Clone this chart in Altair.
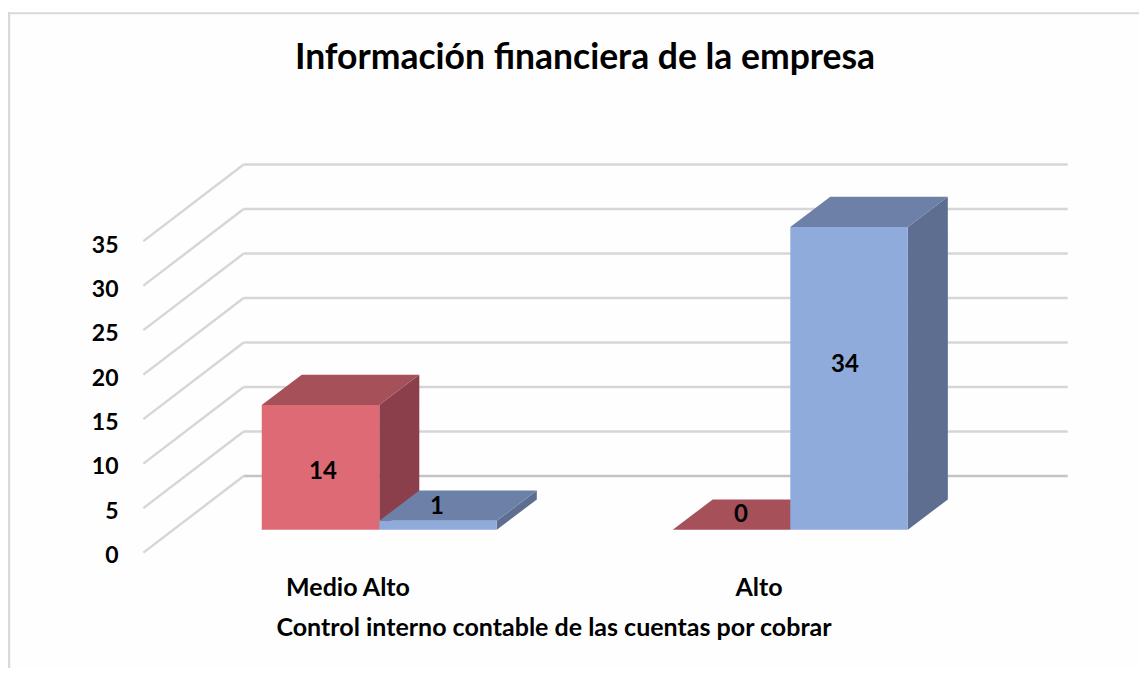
import altair as alt
import pandas as pd

# ---- chart values ----
categories = ["Medio Alto", "Alto"]
red_values = [14, 0]
blue_values = [1, 34]
ticks = [0, 5, 10, 15, 20, 25, 30, 35]
title_text = "Información financiera de la empresa"
x_title = "Control interno contable de las cuentas por cobrar"
# where Excel's data labels sit (x in category steps, y in value units)
red_label_x = [-0.137, 0.88]
red_label_y = [6.48, 1.64]
blue_label_x = [0.14, 1.133]
blue_label_y = [2.58, 18.56]

# ---- layout ----
W, H = 1131, 660
FONT = "Lato"
BAR_W = 0.286       # bar width in category steps
DX, DY = 0.0973, 3.4  # depth of a bar
GRID_X0, GRID_X1, GRID_XF = -0.330, 1.675, -0.574
GRID_BACK, GRID_FRONT = 6.03, -2.58

colors = {
    "red": ("#DE6A76", "#A6505A", "#8B3F4A"),
    "blue": ("#8FABDC", "#6C80A8", "#5D6E90"),
}

xs = alt.Scale(domain=[-0.9034, (8 + W - 379.3) / 411], range=[0, W], nice=False, zero=False)
ys = alt.Scale(domain=[(521.7 - H) / 8.9, 521.7 / 8.9], range=[H, 0], nice=False, zero=False)

front, faces, labels = [], [], []
for series, vals, lx, ly, sign in (
    ("red", red_values, red_label_x, red_label_y, -1),
    ("blue", blue_values, blue_label_x, blue_label_y, 1),
):
    fc, tc, sc = colors[series]
    for i, v in enumerate(vals):
        x0 = i + (-BAR_W if sign < 0 else 0)
        x1 = x0 + BAR_W
        front.append(dict(x=x0, x2=x1, y=0, y2=v, c=fc))
        sid = f"{series}{i}"
        # side face first, then top face
        faces += [
            dict(f=sid + "s", x=x1, y=0, y2=v, c=sc),
            dict(f=sid + "s", x=x1 + DX, y=DY, y2=v + DY, c=sc),
            dict(f=sid + "t", x=x0, y=v, y2=v, c=tc),
            dict(f=sid + "t", x=x0 + DX, y=v, y2=v + DY, c=tc),
            dict(f=sid + "t", x=x1, y=v, y2=v + DY, c=tc),
            dict(f=sid + "t", x=x1 + DX, y=v + DY, y2=v + DY, c=tc),
        ]
        labels.append(dict(x=lx[i], y=ly[i], t=str(v)))

X = alt.X("x:Q", scale=xs, axis=None)
Y = alt.Y("y:Q", scale=ys, axis=None)

# back wall grid
grid_df = pd.DataFrame([dict(t=t, x=GRID_X0, x2=GRID_X1, y=t + GRID_BACK) for t in ticks])
grid_back = alt.Chart(grid_df).mark_rule(strokeWidth=2.4).encode(
    X, alt.X2("x2:Q"), Y,
    color=alt.condition(alt.datum.t == 0, alt.value("#C4C4C4"), alt.value("#D6D6D6")),
)

side_df = pd.DataFrame(
    [dict(t=t, n=0, x=GRID_XF, y=t + GRID_FRONT) for t in ticks]
    + [dict(t=t, n=1, x=GRID_X0, y=t + GRID_BACK) for t in ticks]
)
grid_side = alt.Chart(side_df).mark_line(color="#D6D6D6", strokeWidth=2.4).encode(
    X, Y, detail="t:N", order="n:Q"
)

faces_chart = alt.Chart(pd.DataFrame(faces)).mark_area(orient="vertical", opacity=1).encode(
    X, Y, alt.Y2("y2:Q"),
    color=alt.Color("c:N", scale=None),
    detail="f:N",
)
fronts_chart = alt.Chart(pd.DataFrame(front)).mark_rect().encode(
    X, alt.X2("x2:Q"), Y, alt.Y2("y2:Q"), color=alt.Color("c:N", scale=None)
)
labels_chart = alt.Chart(pd.DataFrame(labels)).mark_text(
    font=FONT, fontWeight="bold", fontSize=24, color="#000000"
).encode(X, Y, text="t:N")

# frame of the chart area
frame_left = alt.Chart(pd.DataFrame({"a": [0]})).mark_rule(color="#D9D9D9", strokeWidth=2.5).encode(
    x=alt.value(1), y=alt.value(4), y2=alt.value(H)
)
frame_top = alt.Chart(pd.DataFrame({"a": [0]})).mark_rule(color="#D9D9D9", strokeWidth=2).encode(
    x=alt.value(0), x2=alt.value(W), y=alt.value(5.2)
)

# invisible layer carrying the two real axes
axes_df = pd.DataFrame([dict(cat=c, tick=t) for c in categories for t in ticks])
axis_layer = alt.Chart(axes_df).mark_point(opacity=0).encode(
    x=alt.X(
        "cat:N",
        sort=categories,
        scale=alt.Scale(type="band", domain=categories, range=[134.5, 956.5], paddingInner=0, paddingOuter=0),
        axis=alt.Axis(
            orient="bottom", title=x_title, offset=-93, labelAngle=0, domain=False, ticks=False, grid=False,
            labelPadding=0, labelFont=FONT, labelFontWeight="bold", labelFontSize=25, labelColor="#000000",
            titleFont=FONT, titleFontWeight="bold", titleFontSize=25, titleColor="#000000", titlePadding=15,
        ),
    ),
    y=alt.Y(
        "tick:Q",
        scale=alt.Scale(domain=[(547.3 - H) / 8.86, 547.3 / 8.86], range=[H, 0], nice=False, zero=False),
        axis=alt.Axis(
            orient="left", title=None, values=ticks, format="d", offset=-110, domain=False, ticks=False, grid=False,
            labelPadding=0, labelFont=FONT, labelFontWeight="bold", labelFontSize=23, labelColor="#000000",
        ),
    ),
)

data_layer = alt.layer(grid_back, grid_side, faces_chart, fronts_chart, labels_chart, frame_left, frame_top)

chart = (
    alt.layer(axis_layer, data_layer)
    .resolve_scale(x="independent", y="independent")
    .resolve_axis(x="independent", y="independent")
    .properties(
        width=W,
        height=H,
        padding=0,
        autosize=alt.AutoSizeParams(type="none"),
        background="#FEFEFE",
        title=alt.TitleParams(
            title_text, font=FONT, fontWeight="bold", fontSize=35.5, color="#000000",
            anchor="middle", offset=-68, dx=11.5,
        ),
    )
    .configure_view(stroke=None)
)

chart.save("out.html", embed_options={"renderer": "svg", "actions": False})
